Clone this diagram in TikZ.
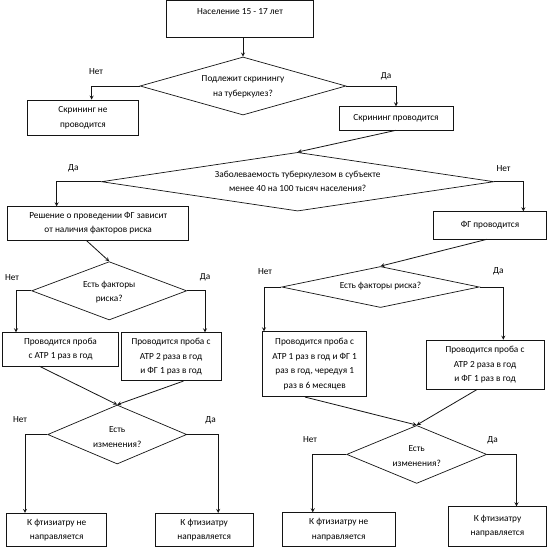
\documentclass[tikz,border=0pt]{standalone}
\usepackage{fontspec}
\setmainfont{Carlito}
\usepackage{tikz}
\usetikzlibrary{arrows,shapes,positioning}
\usepackage{xcolor}
\definecolor{fcline}{RGB}{20,20,20}
\tikzstyle{arrow} = [line width=0.8pt,->,>=stealth,color=fcline]
\tikzstyle{block} = [rectangle, draw=fcline, line width=0.7pt, inner sep=0pt, align=center, font=\fontsize{9.3}{14.5}\selectfont]
\tikzstyle{decision} = [diamond, draw=fcline, line width=0.7pt, inner sep=0pt]
\tikzstyle{dtext} = [align=center, inner sep=0pt, font=\fontsize{9.3}{14.5}\selectfont]
\tikzstyle{answer} = [inner sep=0pt, font=\fontsize{9.3}{14.5}\selectfont]

\begin{document}
\begin{tikzpicture}[x=1pt, y=-1pt]
\path[fill=white, use as bounding box] (0,0) rectangle (550,547);

% Top
\node[block, minimum width=147pt, minimum height=37pt] (pop) at (240,18.8) {Население 15 - 17 лет\\\mbox{}};
\node[decision, minimum width=206pt, minimum height=58pt] (d1) at (243,86) {};
\node[dtext] (d1t) at (243,87) {Подлежит скринингу\\на туберкулез?};
\node[block, minimum width=111.5pt, minimum height=35pt] (noscr) at (83,117.5) {Скрининг не\\проводится};
\node[block, minimum width=114pt, minimum height=23.3pt] (scr) at (396,118.3) {Скрининг проводится};

% Incidence
\node[decision, minimum width=392.6pt, minimum height=58.7pt] (d2) at (297.7,181.7) {};
\node[dtext] (d2t) at (297.7,181.5) {Заболеваемость туберкулезом в субъекте\\менее 40 на 100 тысяч населения?};
\node[block, minimum width=181pt, minimum height=33.3pt] (dep) at (98.2,223.3) {Решение о проведении ФГ зависит\\от наличия факторов риска};
\node[block, minimum width=113pt, minimum height=27.3pt] (fg) at (490,225.3) {ФГ проводится};

% Left branch
\node[decision, minimum width=155pt, minimum height=58.3pt] (d3) at (109.2,290.8) {};
\node[dtext] (d3t) at (109.2,292) {Есть факторы\\риска?};
\node[block, minimum width=115.6pt, minimum height=33.3pt] (atrl) at (60.5,349.3) {Проводится проба\\с АТР 1 раз в год};
\node[block, minimum width=100pt, minimum height=48pt] (atrfgl) at (171,356.7) {Проводится проба с\\АТР 2 раза в год\\и ФГ 1 раз в год};
\node[decision, minimum width=139pt, minimum height=59pt] (d4) at (117.2,434.5) {};
\node[dtext] (d4t) at (117.2,436.8) {Есть\\изменения?};
\node[block, minimum width=100pt, minimum height=33.4pt] (nophl) at (56.7,530) {К фтизиатру не\\направляется};
\node[block, minimum width=98.3pt, minimum height=33.4pt] (phl) at (204.2,530) {К фтизиатру\\направляется};

% Right branch
\node[decision, minimum width=197.6pt, minimum height=41pt] (d5) at (380.5,287) {};
\node[dtext] (d5t) at (380.5,286.5) {Есть факторы риска?};
\node[block, minimum width=104pt, minimum height=65pt] (atrr) at (314.7,364.2) {Проводится проба с\\АТР 1 раз в год и ФГ 1\\раз в год, чередуя 1\\раз в 6 месяцев};
\node[block, minimum width=118pt, minimum height=49.3pt] (atrfgr) at (485,364.7) {Проводится проба с\\АТР 2 раза в год\\и ФГ 1 раз в год};
\node[decision, minimum width=140pt, minimum height=58pt] (d6) at (416.7,454.4) {};
\node[dtext] (d6t) at (416.7,456) {Есть\\изменения?};
\node[block, minimum width=112.7pt, minimum height=34pt] (nophr) at (338.7,529.7) {К фтизиатру не\\направляется};
\node[block, minimum width=98.4pt, minimum height=39.3pt] (phr) at (497.5,526.3) {К фтизиатру\\направляется};

% Answers
\node[answer] (n1) at (96,72) {Нет};
\node[answer] (y1) at (386,76.7) {Да};
\node[answer] (y2) at (73.4,168.3) {Да};
\node[answer] (n2) at (503.5,168.3) {Нет};
\node[answer] (n3) at (12,277.3) {Нет};
\node[answer] (y3) at (205,277.3) {Да};
\node[answer] (n4) at (20,420) {Нет};
\node[answer] (y4) at (210.7,420) {Да};
\node[answer] (n5) at (265,271.7) {Нет};
\node[answer] (y5) at (498.3,271.7) {Да};
\node[answer] (n6) at (310,440) {Нет};
\node[answer] (y6) at (492.7,440) {Да};

% Arrows
\draw[arrow] (pop.south -| d1.north) -- (d1.north);
\draw[arrow] (d1.west) -| ([xshift=8.6pt]noscr.north);
\draw[arrow] (d1.east) -| (scr.north);
\draw[arrow] (scr.south) -- (d2.north);
\draw[arrow] (d2.west) -| ([xshift=-41.6pt]dep.north);
\draw[arrow] (d2.east) -| ([xshift=33.4pt]fg.north);
\draw[arrow] ([xshift=-12pt]dep.south) -- (d3.north);
\draw[arrow] ([xshift=-3pt]fg.south) -- (d5.north);
\draw[arrow] (d3.west) -| ([xshift=-44.5pt]atrl.north);
\draw[arrow] (d3.east) -| ([xshift=34pt]atrfgl.north);
\draw[arrow] ([xshift=-21pt]atrl.south) -- (d4.north);
\draw[arrow] ([xshift=12.5pt]atrfgl.south) -- (d4.north);
\draw[arrow] (d4.west) -| ([xshift=-31.7pt]nophl.north);
\draw[arrow] (d4.east) -| ([xshift=14pt]phl.north);
\draw[arrow] (d5.west) -| ([xshift=-50.7pt]atrr.north);
\draw[arrow] (d5.east) -| ([xshift=18.3pt]atrfgr.north);
\draw[arrow] ([xshift=-9.7pt]atrr.south) -- (d6.north);
\draw[arrow] ([xshift=-8.3pt]atrfgr.south) -- (d6.north);
\draw[arrow] (d6.west) -| ([xshift=-26pt]nophr.north);
\draw[arrow] (d6.east) -| ([xshift=19pt]phr.north);
\end{tikzpicture}
\end{document}
